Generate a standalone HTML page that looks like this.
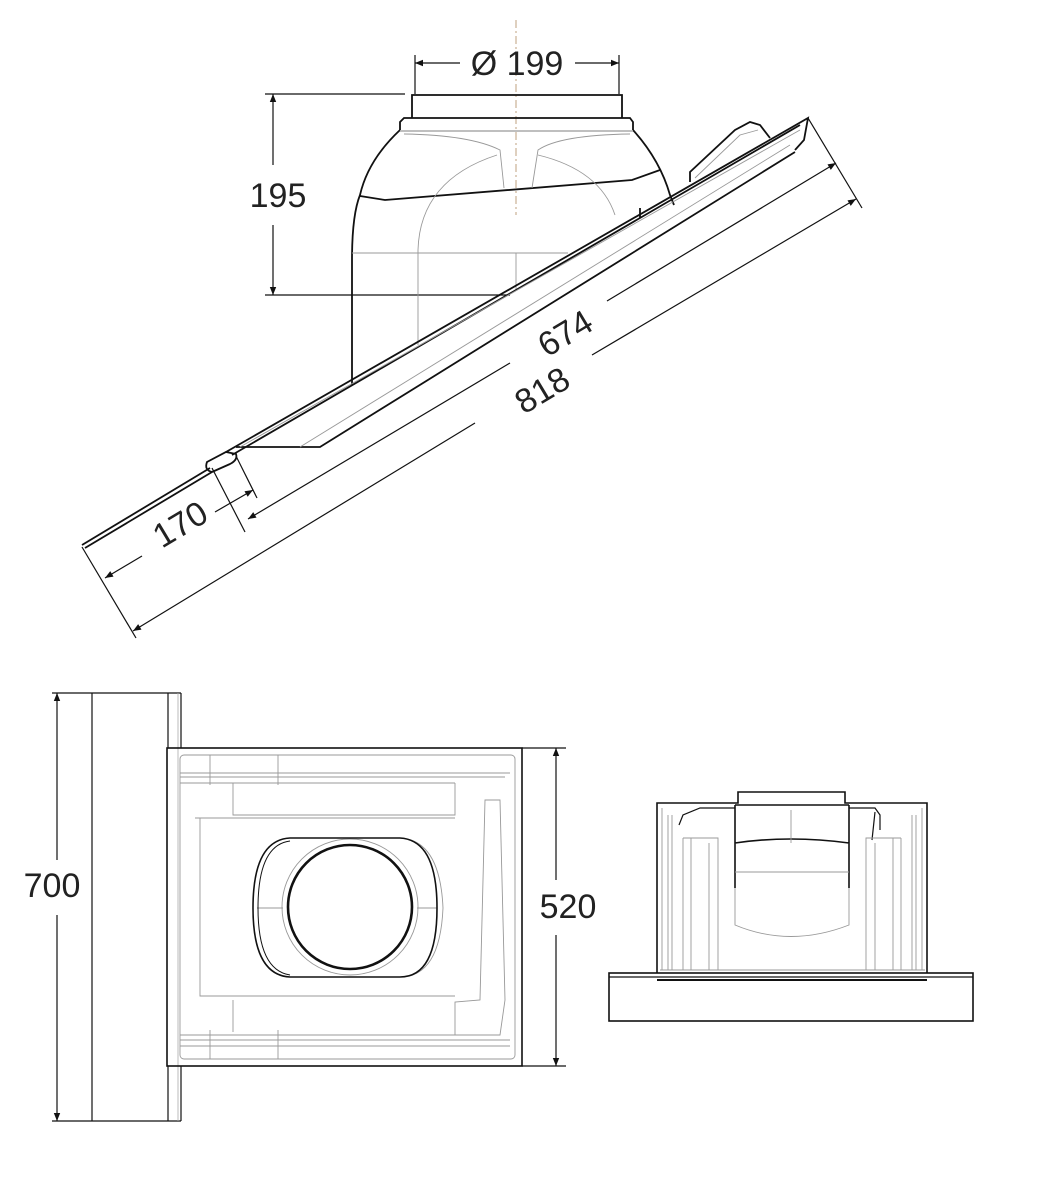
<!DOCTYPE html>
<html><head><meta charset="utf-8"><style>
html,body{margin:0;padding:0;background:#fff;}
svg{display:block;}
text{font-family:"Liberation Sans","DejaVu Sans",sans-serif;font-size:34px;fill:#222;}
</style></head><body>
<svg width="1040" height="1182" viewBox="0 0 1040 1182" xmlns="http://www.w3.org/2000/svg">
<defs>
<marker id="a" viewBox="0 0 10 10" refX="10" refY="5" markerWidth="14" markerHeight="8" markerUnits="userSpaceOnUse" orient="auto-start-reverse">
<path d="M0,1 L10,5 L0,9 z" fill="#111"/></marker>
</defs>
<g fill="none" stroke="#111" stroke-width="1.2">
<!-- center line -->
<line x1="516" y1="20" x2="516" y2="215" stroke="#b08a60" stroke-dasharray="8,3,2,3" stroke-width="0.8"/>
<!-- Ø199 -->
<line x1="415" y1="55" x2="415" y2="94"/>
<line x1="619" y1="55" x2="619" y2="94"/>
<line x1="415" y1="63" x2="460" y2="63" marker-start="url(#a)"/>
<line x1="575" y1="63" x2="619" y2="63" marker-end="url(#a)"/>
<!-- 195 -->
<line x1="265" y1="94" x2="405" y2="94"/>
<line x1="265" y1="295" x2="510" y2="295"/>
<line x1="273" y1="94" x2="273" y2="165" marker-start="url(#a)"/>
<line x1="273" y1="225" x2="273" y2="295" marker-end="url(#a)"/>
<!-- pipe -->
<g stroke-width="1.8">
<path d="M412,118 L412,95 L622,95 L622,118"/>
<path d="M400,130 L400,122 L404,118 L630,118 L633,122 L633,130"/>
<path d="M400,130 Q368,160 360,195 Q352,215 352,260 L352,385"/>
<path d="M633,130 Q660,160 670,195 L674,205"/>
<path d="M360,196 L385,200 L632,180 L660,170"/>
</g>
<line x1="400" y1="131" x2="633" y2="131" stroke="#999"/>
<g stroke="#999" stroke-width="0.9">
<path d="M404,134 Q470,135 500,150 L504,188"/>
<path d="M630,134 Q560,135 538,150 L532,188"/>
<path d="M497,155 Q420,180 418,250 L418,345"/>
<path d="M538,155 Q600,170 615,215"/>
<line x1="352" y1="253" x2="568" y2="253"/>
<line x1="516" y1="253" x2="516" y2="290"/>
</g>
<!-- flashing -->
<g stroke-width="1.8">
<path d="M82,545 L210,468"/>
<path d="M85,548 L212,472"/>
<path d="M212,472 Q204,470 207,462 L226,452 L236,454 Q238,460 230,464 L212,472"/>
<path d="M226,452 L808,118 L804,140 L795,150"/>
<path d="M232,455 L800,125"/>
<path d="M236,447 L320,447 L795,152"/>
<path d="M690,182 L690,172 L735,130 L750,122 L760,125 L770,138"/>
<path d="M640,208 L640,218"/>
</g>
<path d="M240,447 L800,130" stroke="#999" stroke-width="0.9"/>
<path d="M300,447 L790,145" stroke="#999" stroke-width="0.9"/>
<path d="M695,178 L740,135 L758,130" stroke="#999" stroke-width="0.9"/>
<!-- extension lines slanted -->
<line x1="82" y1="547" x2="136" y2="638"/>
<line x1="808" y1="118" x2="862" y2="208"/>
<line x1="212" y1="468" x2="245" y2="532"/>
<line x1="236" y1="456" x2="257" y2="498"/>
<!-- 170 -->
<line x1="142" y1="556" x2="105" y2="578" marker-end="url(#a)"/>
<line x1="215" y1="512" x2="253" y2="490" marker-end="url(#a)"/>
<!-- 674 -->
<line x1="510" y1="363" x2="248" y2="519" marker-end="url(#a)"/>
<line x1="607" y1="301" x2="836" y2="163" marker-end="url(#a)"/>
<!-- 818 -->
<line x1="475" y1="423" x2="133" y2="631" marker-end="url(#a)"/>
<line x1="592" y1="355" x2="856" y2="199" marker-end="url(#a)"/>

<!-- bottom left: 700 -->
<line x1="52" y1="693" x2="181" y2="693"/>
<line x1="52" y1="1121" x2="181" y2="1121"/>
<line x1="57" y1="693" x2="57" y2="860" marker-start="url(#a)"/>
<line x1="57" y1="915" x2="57" y2="1121" marker-end="url(#a)"/>
<line x1="92" y1="693" x2="92" y2="1121"/>
<line x1="168" y1="693" x2="168" y2="748"/>
<line x1="168" y1="1066" x2="168" y2="1121"/>
<line x1="181" y1="693" x2="181" y2="748"/>
<line x1="181" y1="1066" x2="181" y2="1121"/>
<line x1="178" y1="693" x2="178" y2="1121" stroke="#aaa" stroke-width="0.8"/>
<!-- plan rect -->
<rect x="167" y="748" width="355" height="318" stroke-width="1.6"/>
<line x1="522" y1="748" x2="566" y2="748"/>
<line x1="522" y1="1066" x2="566" y2="1066"/>
<line x1="556" y1="748" x2="556" y2="880" marker-start="url(#a)"/>
<line x1="556" y1="935" x2="556" y2="1066" marker-end="url(#a)"/>
<g stroke="#999" stroke-width="0.9">
<rect x="180" y="755" width="335" height="304" rx="4"/>
<line x1="180" y1="773" x2="510" y2="773"/><line x1="180" y1="777" x2="505" y2="777"/>
<line x1="180" y1="783" x2="455" y2="783"/>
<path d="M233,783 L233,815 L455,815 L455,783"/>
<path d="M200,818 L200,996 L455,996"/>
<path d="M195,818 L455,818"/>
<path d="M485,800 L480,1000 L455,1002 L455,1035 L500,1035 L505,1000 L500,800 Z"/>
<line x1="180" y1="1035" x2="455" y2="1035"/><line x1="180" y1="1040" x2="510" y2="1040"/>
<line x1="180" y1="1046" x2="510" y2="1046"/>
<path d="M233,1000 L233,1032"/>
<line x1="278" y1="755" x2="278" y2="785"/><line x1="278" y1="1030" x2="278" y2="1059"/>
<line x1="210" y1="755" x2="210" y2="785"/><line x1="210" y1="1030" x2="210" y2="1059"/>
<path d="M340,838 L400,838 Q440,840 443,908 Q440,977 400,977 L340,977"/>
<line x1="257" y1="908" x2="283" y2="908"/><line x1="417" y1="908" x2="437" y2="908"/>
<circle cx="350" cy="907" r="68"/>
</g>
<path d="M290,838 L400,838 Q437,840 437,908 Q437,977 400,977 L290,977 Q253,975 253,908 Q253,840 290,838 Z" stroke-width="1.6"/>
<path d="M290,841 Q258,845 258,908 Q258,970 290,975" stroke-width="1"/>
<circle cx="350" cy="907" r="62" stroke-width="2.6"/>

<!-- right view -->
<rect x="609" y="973" width="364" height="48" stroke-width="1.6"/>
<line x1="609" y1="977" x2="973" y2="977"/>
<path d="M657,973 L657,803 L738,803 L738,792 L845,792 L845,803 L927,803 L927,973" stroke-width="1.6"/>
<line x1="657" y1="980" x2="927" y2="980" stroke-width="2"/>
<path d="M735,805 L735,888 M849,805 L849,888 M735,843 Q790,835 849,843 M735,805 L849,805" stroke-width="1.6"/>
<path d="M679,825 L683,815 L700,808 L735,808 M849,808 L875,808 L880,815 L880,830 M875,812 L872,840" stroke-width="1.2"/>
<g stroke="#999" stroke-width="0.9">
<path d="M735,888 L735,925 Q790,948 849,925 L849,888"/>
<line x1="735" y1="872" x2="849" y2="872"/>
<line x1="791" y1="810" x2="791" y2="843"/>
<path d="M683,838 L683,970 M691,838 L691,970 M683,838 L718,838 L718,970 M709,843 L709,970"/>
<path d="M901,838 L901,970 M893,838 L893,970 M901,838 L866,838 L866,970 M875,843 L875,970"/>
<path d="M662,808 L662,970 M922,808 L922,970 M668,815 L668,970 M916,815 L916,970 M672,815 L672,970 M912,815 L912,970"/>
<line x1="660" y1="970" x2="925" y2="970"/>
</g>
</g>
<text x="517" y="75" text-anchor="middle">Ø 199</text>
<text x="278" y="207" text-anchor="middle">195</text>
<text x="52" y="897" text-anchor="middle">700</text>
<text x="568" y="918" text-anchor="middle">520</text>
<text transform="translate(565,333) rotate(-31)" text-anchor="middle" dy="12">674</text>
<text transform="translate(542,390) rotate(-31)" text-anchor="middle" dy="12">818</text>
<text transform="translate(180,524) rotate(-31)" text-anchor="middle" dy="12">170</text>
</svg>
</body></html>
